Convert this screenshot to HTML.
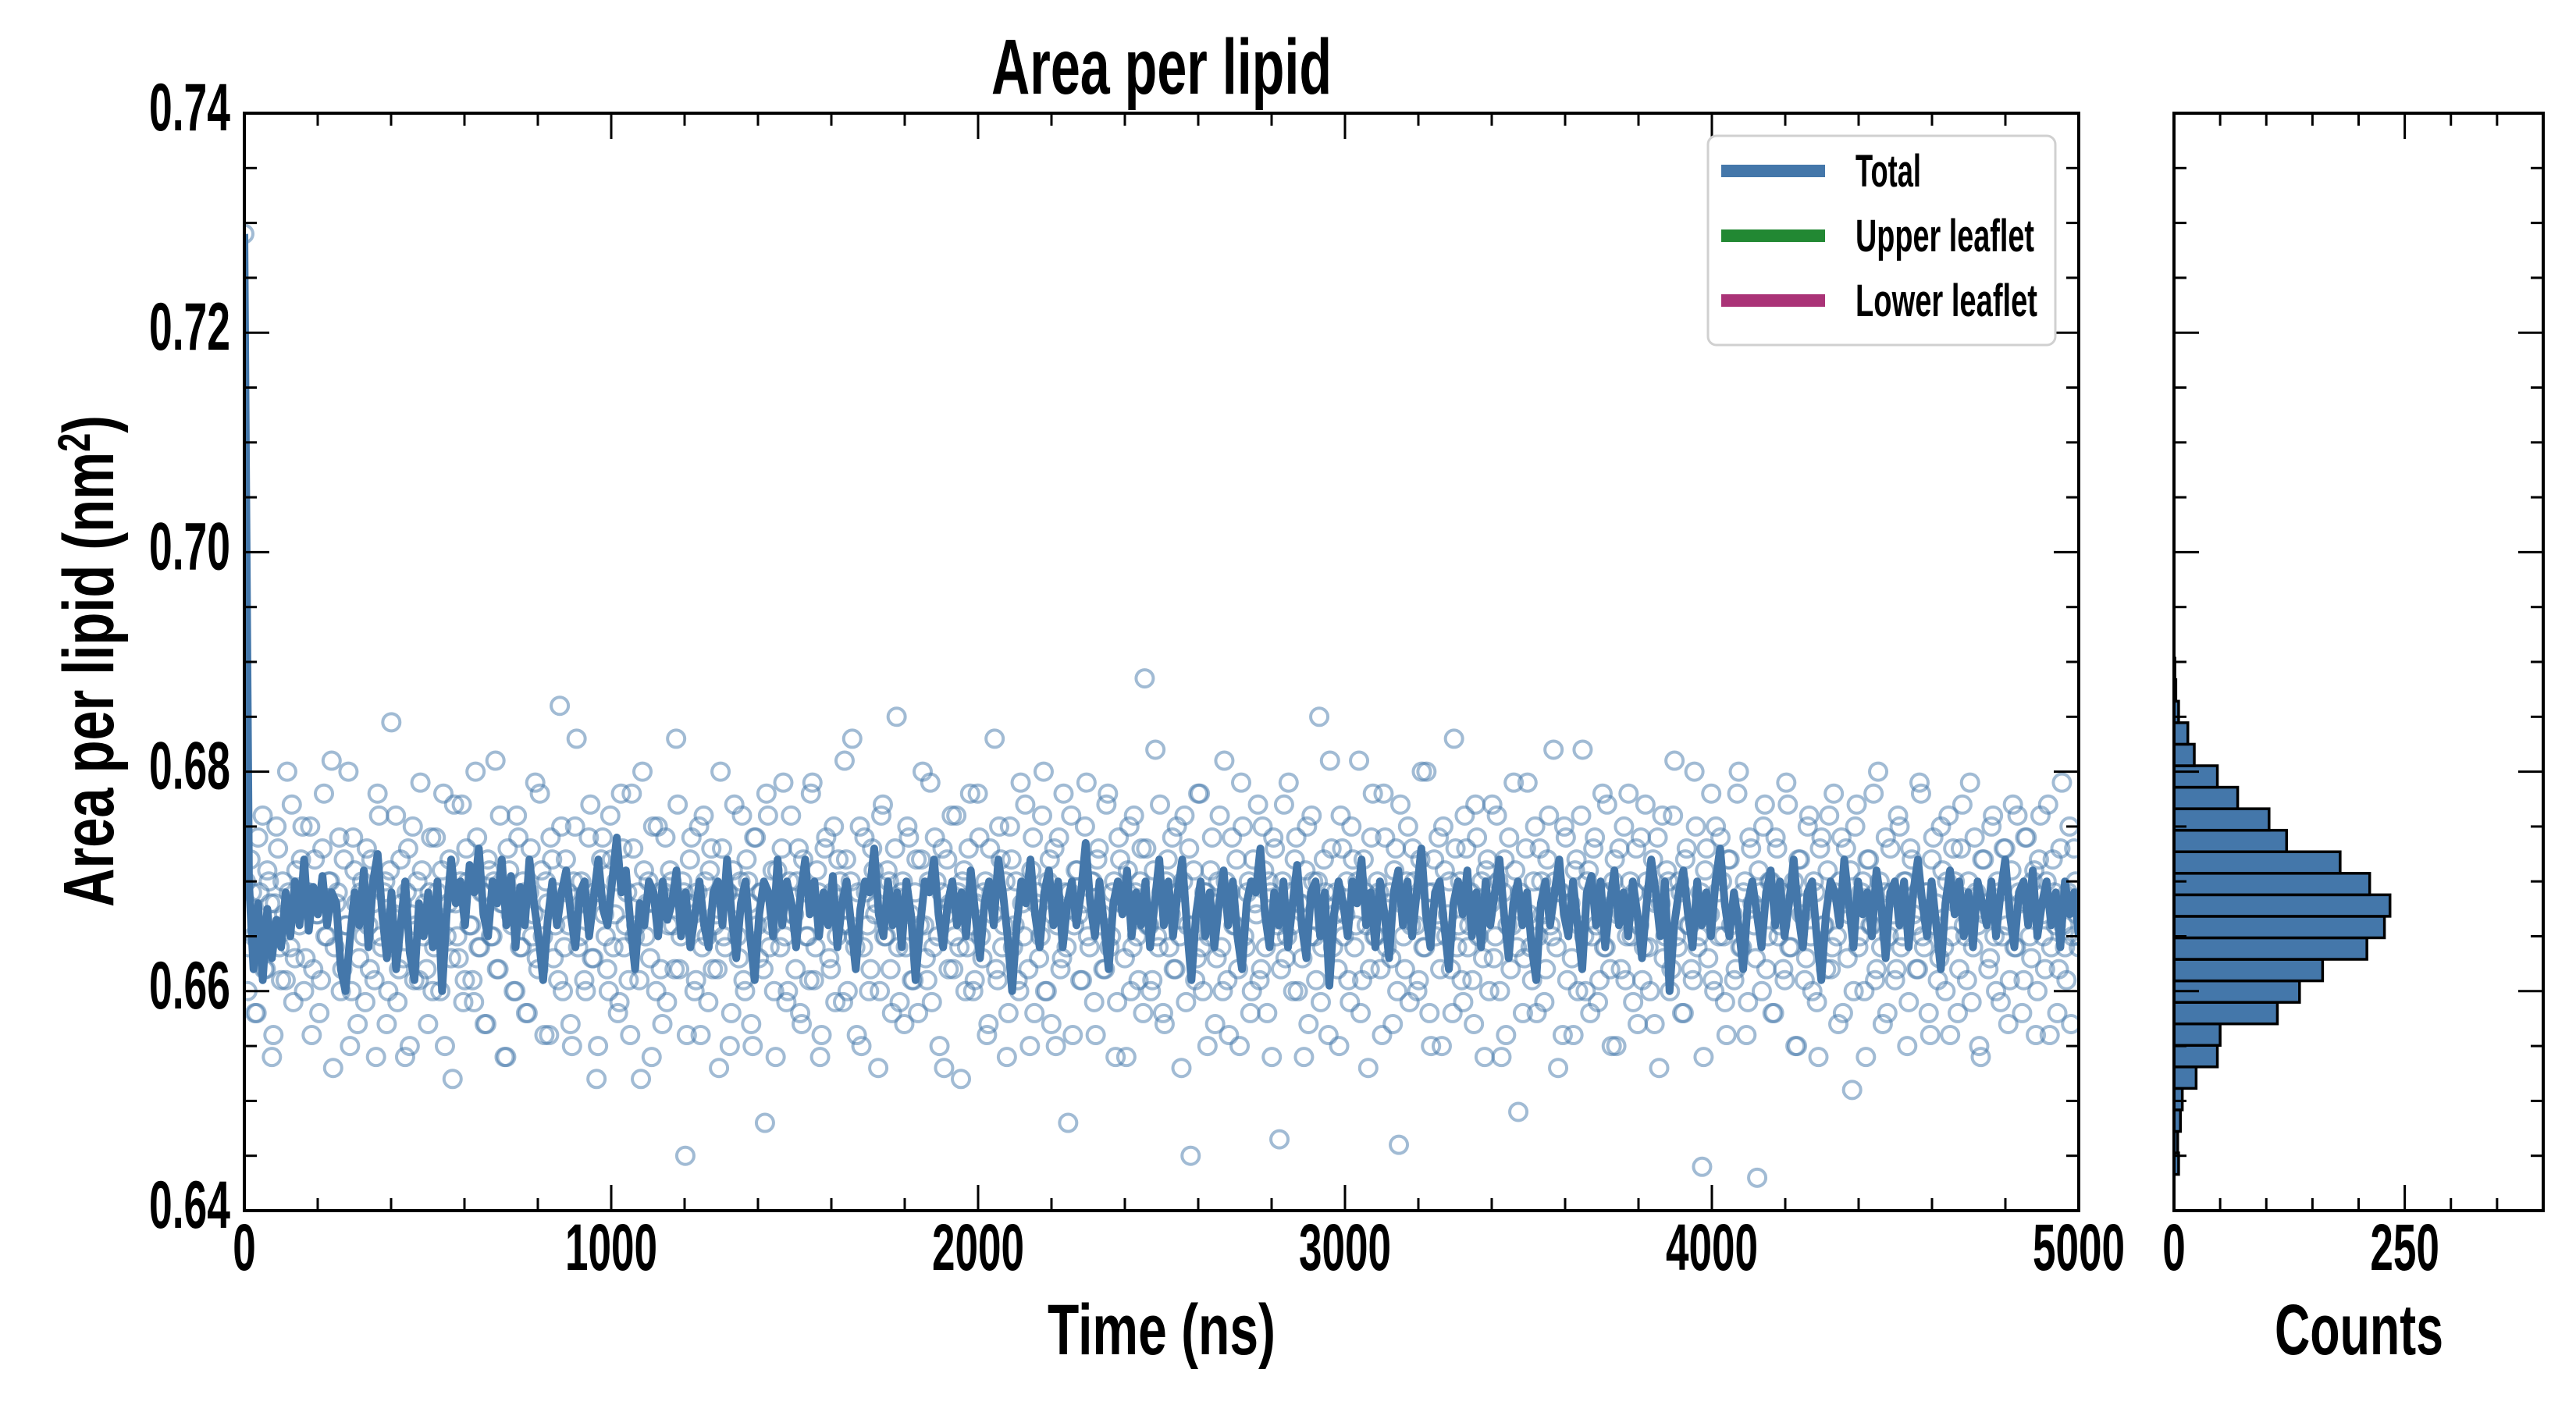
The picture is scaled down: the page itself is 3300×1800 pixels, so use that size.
<!DOCTYPE html>
<html><head><meta charset="utf-8"><style>
html,body{margin:0;padding:0;background:#fff;}
svg{display:block;}
text{font-family:"Liberation Sans",sans-serif;font-weight:bold;fill:#000;}
</style></head><body>
<svg id="chart" width="3300" height="1800" viewBox="0 0 3300 1800" xmlns="http://www.w3.org/2000/svg">
<defs><clipPath id="clipMain"><rect x="313" y="145" width="2350" height="1406"/></clipPath></defs>
<g id="scatter" clip-path="url(#clipMain)"></g>
<g id="line" clip-path="url(#clipMain)"></g>
<g id="hist"></g>
<g id="axes"></g>
<text x="1488" y="120" font-size="100" text-anchor="middle" textLength="436" lengthAdjust="spacingAndGlyphs">Area per lipid</text>
<text x="1488" y="1735" font-size="92" text-anchor="middle" textLength="292" lengthAdjust="spacingAndGlyphs">Time (ns)</text>
<text x="3022" y="1735" font-size="92" text-anchor="middle" textLength="216" lengthAdjust="spacingAndGlyphs">Counts</text>
<text transform="translate(145,847) rotate(-90)" x="0" y="0" font-size="92" text-anchor="middle" textLength="630" lengthAdjust="spacingAndGlyphs">Area per lipid (nm<tspan dy="-30" font-size="58">2</tspan><tspan dy="30">)</tspan></text>
<g>
<rect x="2188" y="174" width="445" height="268" rx="11" fill="#fff" stroke="#d0d0d0" stroke-width="3"/>
<rect x="2205" y="211" width="133" height="16" fill="#4477aa"/>
<rect x="2205" y="294" width="133" height="16" fill="#228833"/>
<rect x="2205" y="377" width="133" height="16" fill="#aa3377"/>
<text x="2377" y="239" font-size="58" textLength="84" lengthAdjust="spacingAndGlyphs">Total</text>
<text x="2377" y="322" font-size="58" textLength="229" lengthAdjust="spacingAndGlyphs">Upper leaflet</text>
<text x="2377" y="405" font-size="58" textLength="233" lengthAdjust="spacingAndGlyphs">Lower leaflet</text>
</g>
</svg>
<script>
const yTickLabels=["0.64","0.66","0.68","0.70","0.72","0.74"];
const yTickValues=[0.64,0.66,0.68,0.70,0.72,0.74];
const xTickLabels=["0","1000","2000","3000","4000","5000"];
const xTickValues=[0,1000,2000,3000,4000,5000];
const histTickLabels=["0","250"];
const histTickValues=[0,250];
const histBinStart=0.6433;
const histBinWidth=0.00196;
const histCounts=[5,4,7,9,24,47,50,112,136,161,209,228,234,212,180,122,103,69,47,22,15,5,2,1];
const lineValues=[
.7290,.6700,.6620,.6680,.6610,.6675,.6630,.6665,.6640,.6690,.6650,.6700,.6660,.6720,.6655,.6695,.6670,.6705,.6660,.6690,
.6680,.6620,.6600,.6650,.6690,.6660,.6710,.6640,.6700,.6725,.6670,.6630,.6690,.6620,.6660,.6700,.6635,.6610,.6680,.6650,
.6690,.6640,.6700,.6600,.6670,.6720,.6680,.6700,.6660,.6715,.6690,.6730,.6670,.6650,.6700,.6680,.6720,.6660,.6705,.6640,
.6695,.6660,.6720,.6680,.6650,.6610,.6665,.6700,.6660,.6690,.6710,.6670,.6640,.6690,.6700,.6650,.6685,.6720,.6675,.6660,
.6700,.6740,.6690,.6710,.6660,.6620,.6680,.6660,.6700,.6690,.6650,.6700,.6665,.6680,.6710,.6650,.6690,.6640,.6670,.6700,
.6660,.6640,.6690,.6700,.6660,.6720,.6670,.6630,.6680,.6700,.6650,.6610,.6670,.6700,.6690,.6650,.6720,.6660,.6700,.6680,
.6640,.6690,.6720,.6670,.6700,.6650,.6690,.6660,.6705,.6640,.6680,.6700,.6660,.6620,.6675,.6700,.6690,.6730,.6670,.6650,
.6700,.6660,.6690,.6640,.6700,.6670,.6610,.6660,.6700,.6690,.6720,.6670,.6640,.6680,.6700,.6660,.6690,.6650,.6710,.6670,
.6630,.6680,.6700,.6660,.6720,.6690,.6650,.6600,.6660,.6700,.6680,.6720,.6670,.6640,.6690,.6710,.6660,.6700,.6640,.6680,
.6700,.6660,.6690,.6735,.6680,.6650,.6700,.6660,.6620,.6680,.6700,.6670,.6710,.6650,.6690,.6660,.6700,.6640,.6680,.6720,
.6660,.6700,.6650,.6690,.6720,.6660,.6610,.6670,.6700,.6650,.6690,.6640,.6680,.6710,.6660,.6700,.6650,.6620,.6680,.6700,
.6690,.6730,.6670,.6640,.6690,.6660,.6700,.6640,.6680,.6715,.6660,.6630,.6690,.6700,.6650,.6690,.6605,.6670,.6700,.6680,
.6650,.6700,.6680,.6720,.6660,.6690,.6640,.6700,.6670,.6630,.6690,.6710,.6660,.6700,.6650,.6690,.6730,.6670,.6640,.6690,
.6700,.6660,.6620,.6680,.6700,.6670,.6710,.6650,.6690,.6640,.6700,.6660,.6690,.6720,.6670,.6630,.6680,.6700,.6660,.6690,
.6640,.6610,.6680,.6700,.6660,.6690,.6720,.6670,.6650,.6700,.6660,.6620,.6690,.6705,.6660,.6700,.6640,.6680,.6710,.6660,
.6690,.6650,.6700,.6670,.6630,.6680,.6720,.6690,.6650,.6700,.6600,.6660,.6690,.6710,.6670,.6640,.6700,.6660,.6690,.6650,
.6700,.6730,.6680,.6650,.6690,.6660,.6620,.6680,.6700,.6670,.6640,.6690,.6710,.6660,.6700,.6650,.6680,.6720,.6670,.6640,
.6690,.6700,.6650,.6610,.6670,.6700,.6690,.6660,.6720,.6680,.6640,.6700,.6670,.6690,.6650,.6710,.6680,.6630,.6690,.6700,
.6660,.6700,.6640,.6690,.6720,.6680,.6650,.6700,.6660,.6620,.6680,.6710,.6670,.6700,.6650,.6690,.6640,.6700,.6680,.6660,
.6700,.6650,.6690,.6720,.6670,.6640,.6690,.6700,.6660,.6710,.6650,.6680,.6700,.6660,.6690,.6640,.6700,.6670,.6690,.6650];
const scatterValues=[
.7290,.6600,.6720,.6650,.6580,.6690,.6760,.6620,.6700,.6540,.6680,.6730,.6610,.6670,.6800,.6640,.6590,.6710,.6660,.6750,
.6630,.6690,.6560,.6720,.6670,.6610,.6780,.6650,.6700,.6530,.6680,.6740,.6620,.6660,.6800,.6600,.6710,.6570,.6690,.6650,
.6730,.6620,.6680,.6540,.6760,.6640,.6700,.6600,.6845,.6670,.6590,.6720,.6630,.6690,.6550,.6750,.6660,.6610,.6710,.6680,
.6570,.6740,.6640,.6690,.6600,.6780,.6650,.6720,.6520,.6680,.6630,.6770,.6610,.6700,.6660,.6590,.6740,.6640,.6690,.6570,
.6710,.6650,.6810,.6620,.6680,.6540,.6730,.6670,.6600,.6760,.6640,.6700,.6580,.6690,.6650,.6790,.6620,.6710,.6560,.6680,
.6740,.6630,.6690,.6860,.6600,.6720,.6660,.6550,.6750,.6640,.6700,.6610,.6680,.6770,.6630,.6520,.6690,.6740,.6650,.6600,
.6720,.6670,.6580,.6780,.6640,.6690,.6560,.6730,.6660,.6610,.6800,.6650,.6700,.6540,.6680,.6750,.6620,.6690,.6590,.6710,
.6660,.6830,.6620,.6700,.6450,.6680,.6740,.6600,.6690,.6560,.6760,.6650,.6710,.6620,.6670,.6530,.6730,.6640,.6690,.6580,
.6770,.6650,.6700,.6610,.6720,.6680,.6550,.6740,.6630,.6690,.6480,.6760,.6660,.6600,.6710,.6640,.6790,.6590,.6700,.6670,
.6620,.6730,.6570,.6690,.6650,.6780,.6610,.6710,.6540,.6680,.6740,.6630,.6690,.6590,.6720,.6660,.6810,.6600,.6700,.6650,
.6560,.6750,.6640,.6690,.6600,.6730,.6670,.6530,.6760,.6650,.6710,.6620,.6680,.6850,.6590,.6700,.6640,.6740,.6610,.6690,
.6580,.6720,.6660,.6610,.6790,.6640,.6700,.6550,.6730,.6670,.6620,.6760,.6650,.6690,.6520,.6710,.6640,.6780,.6600,.6680,
.6740,.6630,.6700,.6570,.6690,.6830,.6610,.6720,.6660,.6540,.6750,.6640,.6700,.6600,.6680,.6770,.6620,.6710,.6580,.6690,
.6650,.6800,.6600,.6720,.6670,.6550,.6740,.6630,.6690,.6480,.6760,.6660,.6710,.6610,.6680,.6790,.6640,.6700,.6560,.6730,
.6670,.6620,.6780,.6650,.6700,.6590,.6720,.6680,.6540,.6750,.6640,.6690,.6610,.6730,.6885,.6660,.6600,.6710,.6650,.6770,
.6580,.6700,.6640,.6740,.6620,.6690,.6530,.6760,.6660,.6450,.6710,.6630,.6780,.6600,.6690,.6650,.6740,.6570,.6700,.6640,
.6810,.6610,.6690,.6660,.6720,.6550,.6750,.6640,.6700,.6600,.6680,.6770,.6620,.6710,.6580,.6690,.6740,.6650,.6465,.6700,
.6630,.6790,.6660,.6720,.6600,.6680,.6540,.6750,.6650,.6700,.6610,.6850,.6640,.6690,.6560,.6730,.6670,.6620,.6760,.6650,
.6700,.6590,.6720,.6660,.6810,.6610,.6690,.6530,.6740,.6650,.6700,.6620,.6780,.6640,.6690,.6570,.6730,.6460,.6680,.6620,
.6750,.6660,.6700,.6600,.6720,.6640,.6800,.6580,.6690,.6650,.6740,.6550,.6710,.6670,.6620,.6830,.6640,.6700,.6590,.6730,
.6660,.6610,.6770,.6650,.6700,.6540,.6720,.6680,.6630,.6760,.6600,.6690,.6560,.6740,.6660,.6710,.6490,.6680,.6630,.6790,
.6640,.6700,.6580,.6730,.6670,.6620,.6760,.6650,.6700,.6530,.6690,.6750,.6610,.6680,.6560,.6720,.6660,.6820,.6600,.6710,
.6650,.6740,.6590,.6690,.6640,.6770,.6620,.6700,.6550,.6730,.6670,.6610,.6780,.6650,.6690,.6570,.6740,.6640,.6700,.6600,
.6720,.6680,.6530,.6760,.6650,.6700,.6620,.6810,.6640,.6690,.6580,.6730,.6660,.6610,.6750,.6650,.6440,.6710,.6630,.6780,
.6600,.6690,.6740,.6650,.6560,.6720,.6670,.6620,.6800,.6640,.6700,.6590,.6730,.6660,.6430,.6690,.6750,.6620,.6700,.6580,
.6740,.6650,.6690,.6610,.6770,.6640,.6700,.6550,.6720,.6680,.6630,.6760,.6600,.6690,.6540,.6740,.6660,.6710,.6620,.6780,
.6650,.6700,.6580,.6730,.6670,.6510,.6750,.6640,.6690,.6600,.6720,.6660,.6780,.6620,.6700,.6570,.6740,.6650,.6690,.6610,
.6760,.6640,.6700,.6550,.6730,.6670,.6620,.6790,.6650,.6690,.6580,.6720,.6660,.6610,.6750,.6640,.6700,.6560,.6730,.6680,
.6620,.6770,.6650,.6700,.6590,.6740,.6660,.6540,.6720,.6680,.6630,.6760,.6600,.6690,.6650,.6730,.6570,.6710,.6640,.6760,
.6680,.6610,.6740,.6650,.6700,.6560,.6720,.6670,.6620,.6770,.6640,.6690,.6580,.6730,.6660,.6610,.6750,.6650,.6700,.6640];
const scatterValues2=[
.6700,.6640,.6690,.6580,.6740,.6660,.6620,.6710,.6680,.6560,.6750,.6640,.6700,.6610,.6690,.6770,.6630,.6680,.6720,.6600,
.6690,.6750,.6620,.6670,.6580,.6730,.6650,.6700,.6810,.6640,.6690,.6600,.6720,.6660,.6550,.6740,.6680,.6630,.6700,.6590,
.6660,.6720,.6610,.6780,.6650,.6690,.6570,.6710,.6640,.6760,.6620,.6680,.6540,.6730,.6670,.6610,.6700,.6790,.6650,.6620,
.6690,.6600,.6740,.6660,.6710,.6550,.6680,.6630,.6770,.6650,.6700,.6590,.6730,.6660,.6610,.6800,.6640,.6690,.6570,.6720,
.6650,.6700,.6620,.6760,.6680,.6540,.6710,.6660,.6600,.6740,.6640,.6690,.6580,.6730,.6670,.6630,.6780,.6650,.6700,.6560,
.6720,.6660,.6610,.6750,.6640,.6690,.6570,.6700,.6830,.6650,.6680,.6600,.6740,.6630,.6690,.6550,.6720,.6670,.6620,.6760,
.6640,.6700,.6590,.6730,.6660,.6610,.6780,.6650,.6690,.6520,.6710,.6680,.6630,.6750,.6600,.6690,.6570,.6740,.6660,.6700,
.6620,.6770,.6650,.6690,.6560,.6720,.6670,.6610,.6750,.6640,.6700,.6590,.6730,.6660,.6620,.6800,.6650,.6690,.6550,.6710,
.6680,.6630,.6760,.6600,.6700,.6570,.6740,.6660,.6690,.6620,.6780,.6640,.6710,.6540,.6680,.6730,.6650,.6600,.6760,.6670,
.6700,.6580,.6720,.6650,.6610,.6790,.6640,.6690,.6560,.6730,.6670,.6620,.6750,.6650,.6700,.6590,.6720,.6660,.6830,.6640,
.6690,.6550,.6740,.6660,.6620,.6710,.6680,.6600,.6770,.6650,.6700,.6580,.6730,.6640,.6690,.6570,.6750,.6670,.6610,.6720,
.6660,.6800,.6630,.6700,.6590,.6740,.6650,.6690,.6530,.6720,.6680,.6620,.6760,.6640,.6700,.6600,.6730,.6660,.6610,.6780,
.6650,.6690,.6560,.6730,.6670,.6620,.6750,.6640,.6700,.6580,.6720,.6660,.6610,.6790,.6650,.6690,.6550,.6740,.6680,.6630,
.6760,.6600,.6700,.6570,.6730,.6660,.6620,.6780,.6640,.6690,.6560,.6710,.6670,.6610,.6750,.6650,.6700,.6590,.6720,.6660,
.6620,.6770,.6640,.6690,.6540,.6740,.6680,.6630,.6710,.6600,.6760,.6650,.6700,.6580,.6730,.6660,.6610,.6820,.6640,.6690,
.6570,.6720,.6670,.6620,.6750,.6650,.6700,.6590,.6730,.6660,.6610,.6780,.6640,.6690,.6550,.6710,.6680,.6630,.6760,.6600,
.6700,.6560,.6740,.6660,.6620,.6790,.6650,.6690,.6580,.6720,.6670,.6610,.6750,.6640,.6700,.6540,.6730,.6660,.6620,.6770,
.6650,.6690,.6600,.6740,.6680,.6630,.6710,.6570,.6760,.6650,.6700,.6590,.6720,.6660,.6810,.6640,.6690,.6550,.6730,.6670,
.6610,.6750,.6640,.6700,.6580,.6720,.6660,.6620,.6780,.6650,.6690,.6560,.6740,.6680,.6630,.6710,.6600,.6770,.6650,.6700,
.6590,.6730,.6660,.6610,.6800,.6640,.6690,.6550,.6720,.6670,.6620,.6750,.6650,.6700,.6580,.6730,.6660,.6610,.6760,.6640,
.6690,.6570,.6740,.6680,.6630,.6710,.6600,.6770,.6650,.6700,.6540,.6720,.6660,.6620,.6790,.6640,.6690,.6580,.6730,.6670,
.6610,.6750,.6650,.6700,.6590,.6720,.6660,.6820,.6640,.6690,.6560,.6740,.6680,.6630,.6710,.6600,.6760,.6650,.6700,.6580,
.6730,.6660,.6610,.6780,.6640,.6690,.6550,.6720,.6670,.6620,.6750,.6650,.6700,.6590,.6730,.6660,.6610,.6770,.6640,.6690,
.6570,.6740,.6680,.6630,.6710,.6600,.6760,.6650,.6700,.6580,.6720,.6660,.6620,.6800,.6640,.6690,.6540,.6730,.6670,.6610,
.6750,.6650,.6700,.6590,.6720,.6660,.6610,.6780,.6640,.6690,.6560,.6740,.6680,.6630,.6710,.6600,.6770,.6650,.6700,.6580,
.6730,.6660,.6620,.6790,.6640,.6690,.6550,.6720,.6670,.6610,.6750,.6650,.6700,.6590,.6730,.6660,.6620,.6760,.6640,.6690,
.6570,.6740,.6680,.6630,.6710,.6600,.6770,.6650,.6700,.6540,.6720,.6660,.6610,.6800,.6640,.6690,.6580,.6730,.6670,.6620,
.6750,.6650,.6700,.6590,.6720,.6660,.6620,.6780,.6640,.6690,.6560,.6740,.6680,.6630,.6710,.6600,.6760,.6650,.6700,.6580,
.6730,.6660,.6610,.6790,.6640,.6690,.6550,.6720,.6670,.6620,.6750,.6650,.6700,.6590,.6730,.6660,.6610,.6770,.6640,.6690,
.6580,.6740,.6680,.6630,.6710,.6600,.6760,.6650,.6700,.6560,.6720,.6660,.6620,.6790,.6640,.6690,.6570,.6730,.6670,.6650];

const NS="http://www.w3.org/2000/svg";
const L=313,R=2663,T=145,B=1551;
const HL=2785,HR=3258,HMAX=400;
const YMIN=0.64,YMAX=0.74,TMAX=5000;
function xs(t){return L+(t/TMAX)*(R-L);}
function ys(v){return B-(v-YMIN)/(YMAX-YMIN)*(B-T);}
function hx(c){return HL+(c/HMAX)*(HR-HL);}
function mk(tag,attrs,parent){const e=document.createElementNS(NS,tag);for(const k in attrs)e.setAttribute(k,attrs[k]);parent.appendChild(e);return e;}

const gS=document.getElementById('scatter');
const nS=scatterValues.length;
const stepS=TMAX/(nS-1);
scatterValues.forEach((v,i)=>{
  const t=i*stepS;
  const c=mk('circle',{cx:xs(t),cy:ys(v),r:11,fill:'none',stroke:'#4477aa','stroke-opacity':0.5,'stroke-width':4},gS);
  
  
});
scatterValues2.forEach((v,i)=>{
  const t=(i+0.5)*stepS;
  const c=mk('circle',{cx:xs(t),cy:ys(v),r:11,fill:'none',stroke:'#4477aa','stroke-opacity':0.5,'stroke-width':4},gS);
  
  
});
const gLn=document.getElementById('line');
const nL=lineValues.length;
let d='';
lineValues.forEach((v,i)=>{const t=i*TMAX/(nL-1);d+=(i?'L':'M')+xs(t).toFixed(1)+' '+ys(v).toFixed(1);});
const pl=mk('path',{d:d,fill:'none',stroke:'#4477aa','stroke-width':10,'stroke-linejoin':'round'},gLn);



const gH=document.getElementById('hist');
histCounts.forEach((c,i)=>{
  const v0=histBinStart+i*histBinWidth,v1=v0+histBinWidth;
  const r=mk('rect',{x:HL,y:ys(v1),width:hx(c)-HL,height:ys(v0)-ys(v1),fill:'#4477aa',stroke:'#000','stroke-width':3.5},gH);
  
  
});

const gA=document.getElementById('axes');
function line(x1,y1,x2,y2,w){return mk('line',{x1:x1,y1:y1,x2:x2,y2:y2,stroke:'#000','stroke-width':w||3},gA);}
const f1=mk('rect',{x:L,y:T,width:R-L,height:B-T,fill:'none',stroke:'#000','stroke-width':4},gA);


const f2=mk('rect',{x:HL,y:T,width:HR-HL,height:B-T,fill:'none',stroke:'#000','stroke-width':4},gA);


for(let t=0;t<=TMAX;t+=200){const maj=t%1000===0;const len=maj?33:16;const x=xs(t);line(x,B,x,B-len);line(x,T,x,T+len);}
xTickValues.forEach((t,i)=>{
  const tx=mk('text',{x:xs(t),y:1627,'font-size':84,'text-anchor':'middle',textLength:xTickLabels[i].length*29.5,lengthAdjust:'spacingAndGlyphs'},gA);
  tx.textContent=xTickLabels[i];
  
  
});
for(let k=0;k<=20;k++){const v=YMIN+k*0.005;const maj=k%4===0;const len=maj?32:16;const y=ys(v);
  line(L,y,L+len,y);line(R,y,R-len,y);line(HL,y,HL+len,y);line(HR,y,HR-len,y);}
yTickValues.forEach((v,i)=>{
  const tx=mk('text',{x:295,y:ys(v)+22,'font-size':86,'text-anchor':'end',textLength:104,lengthAdjust:'spacingAndGlyphs'},gA);
  tx.textContent=yTickLabels[i];
  
  
});
for(let c=0;c<=HMAX;c+=50){const maj=c%250===0;const len=maj?33:16;const x=hx(c);line(x,B,x,B-len);line(x,T,x,T+len);}
histTickValues.forEach((c,i)=>{
  const tx=mk('text',{x:hx(c),y:1627,'font-size':84,'text-anchor':'middle',textLength:histTickLabels[i].length*29.5,lengthAdjust:'spacingAndGlyphs'},gA);
  tx.textContent=histTickLabels[i];
  
  
});
</script>
</body></html>
